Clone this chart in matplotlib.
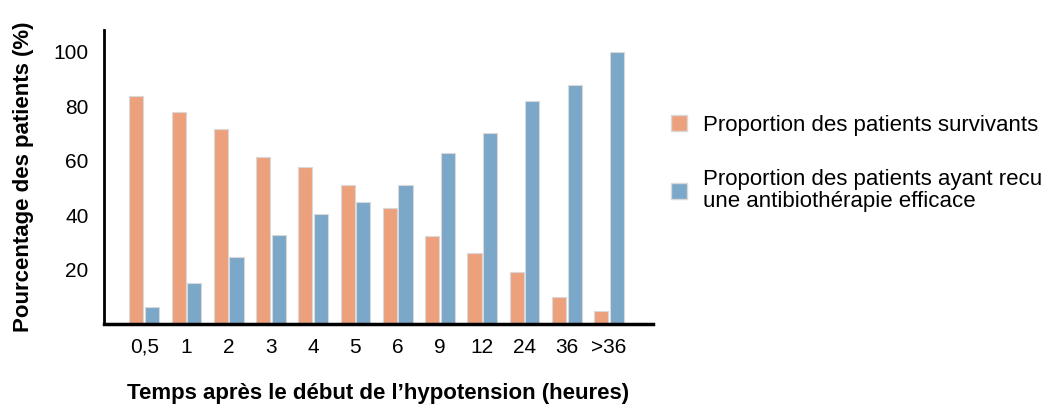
import matplotlib
matplotlib.use("Agg")
import matplotlib.pyplot as plt
import numpy as np
from matplotlib.patches import Patch

plt.rcParams['font.family'] = ['Liberation Sans', 'DejaVu Sans']

categories = ["0,5", "1", "2", "3", "4", "5", "6", "9", "12", "24", "36", ">36"]
survivants = [83.6, 77.9, 71.5, 61.3, 57.8, 51.0, 42.6, 32.3, 26.2, 19.0, 9.8, 4.8]
antibio = [6.1, 15.1, 24.5, 32.7, 40.3, 44.8, 51.0, 62.8, 70.3, 82.1, 87.9, 100.0]
yticks = [20, 40, 60, 80, 100]

label_surv = "Proportion des patients survivants"
label_anti = "Proportion des patients ayant recu\nune antibiothérapie efficace"

c_orange = "#ECA17C"
c_blue = "#7BA7C9"
edge = "#d9d9d9"

fig = plt.figure(figsize=(10.49, 4.05), dpi=100)
ax = fig.add_axes([104/1049, 81/405, (653-104)/1049, (324-30)/405])

x = np.arange(len(categories))
w = 0.335
off = 0.185
ax.bar(x - off, survivants, width=w, color=c_orange, edgecolor=edge, linewidth=0.8)
ax.bar(x + off, antibio, width=w, color=c_blue, edgecolor=edge, linewidth=0.8)

ax.set_xlim(-0.95, 12.04)
ax.set_ylim(0, 108)
ax.set_xticks(x)
ax.set_xticklabels(categories, fontsize=15)
ax.set_yticks(yticks)
ax.set_yticklabels([str(v) for v in yticks], fontsize=15)
ax.tick_params(axis='x', length=0, pad=10)
ax.tick_params(axis='y', length=0, pad=11)

for s in ['top', 'right']:
    ax.spines[s].set_visible(False)
ax.spines['left'].set_linewidth(2)
ax.spines['bottom'].set_linewidth(2.5)

ax.set_ylabel("Pourcentage des patients (%)", fontsize=16, fontweight='bold', labelpad=14)
ax.set_xlabel("Temps après le début de l\u2019hypotension (heures)", fontsize=16, fontweight='bold', labelpad=19)

handles = [Patch(facecolor=c_orange, edgecolor=edge), Patch(facecolor=c_blue, edgecolor=edge)]
leg = fig.legend(handles, [label_surv, label_anti], loc='upper left',
                 bbox_to_anchor=(653/1049, 1 - 97/405), frameon=False, fontsize=16,
                 handlelength=0.72, handleheight=0.72, handletextpad=0.75, labelspacing=1.5,
                 borderpad=0.3)
for t in leg.get_texts():
    t.set_linespacing(1.05)

fig.savefig("out.png", dpi=100)
